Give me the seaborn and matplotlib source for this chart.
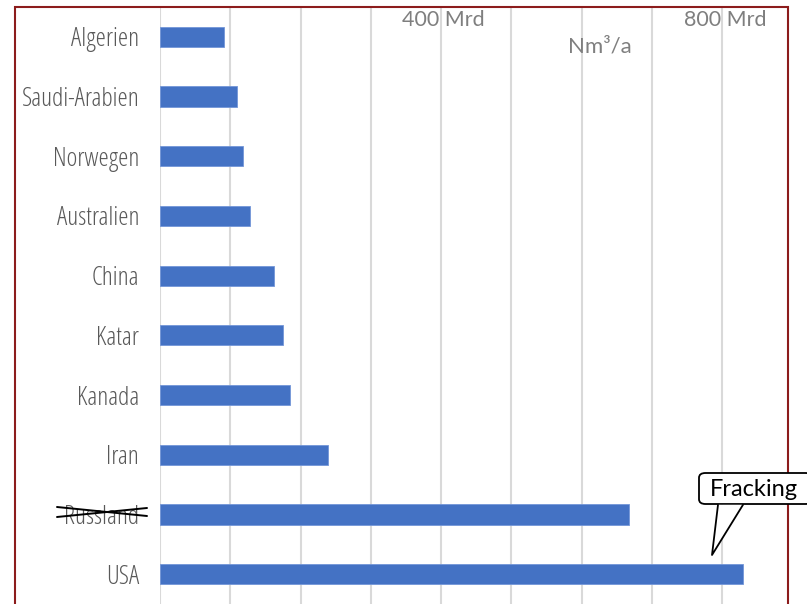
import matplotlib
matplotlib.use("Agg")
import matplotlib.pyplot as plt
import matplotlib.patches as mpatches
import matplotlib.transforms as mtransforms
import numpy as np
import pandas as pd
import seaborn as sns

# Natural gas production by country (billion Nm³ per year)
countries = ["Algerien", "Saudi-Arabien", "Norwegen", "Australien", "China",
             "Katar", "Kanada", "Iran", "Russland", "USA"]
production = [91, 110, 118, 128, 162, 175, 185, 239, 668, 830]
tick_values = [400, 800]
tick_labels = ["400 Mrd", "800 Mrd"]
unit_label = "Nm³/a"
callout_text = "Fracking"

df = pd.DataFrame({"Land": countries, "Förderung": production})

sns.set_theme(style="white")
plt.rcParams["font.family"] = ["Lato", "DejaVu Sans"]

W, H = 807, 604
fig = plt.figure(figsize=(W / 100, H / 100), dpi=100)
ax = fig.add_axes([160 / W, 0.0, (788 - 160) / W, (H - 7) / H])

bar_color = "#4472C4"
sns.barplot(data=df, y="Land", x="Förderung", orient="h", color=bar_color,
            width=0.34, ax=ax, saturation=1, edgecolor="#7396d8", linewidth=0.6)

ax.set_xlim(0, (788 - 160) / 0.7025)
ax.set_ylim(len(countries) - 0.5, -0.5)
ax.set_xticks(np.arange(0, 801, 100))
ax.set_xticklabels([])
ax.tick_params(axis="x", length=0)
ax.tick_params(axis="y", length=0, pad=15)
ax.grid(axis="x", color="#d9d9d9", linewidth=1.5)
ax.set_axisbelow(True)
for s in ax.spines.values():
    s.set_visible(False)
ax.set_xlabel("")
ax.set_ylabel("")

for lbl in ax.get_yticklabels():
    lbl.set_fontfamily(["Open Sans", "DejaVu Sans"])
    lbl.set_fontstretch("condensed")
    lbl.set_fontweight(400)
    lbl.set_fontsize(18.5)
    lbl.set_color("#595959")

# value markers along the top
trans = mtransforms.blended_transform_factory(ax.transData, ax.transAxes)
for v, t in zip(tick_values, tick_labels):
    ax.text(v + 4, 0.978, t, transform=trans, ha="center", va="center",
            fontsize=15.5, color="#7f7f7f")
ax.text(626, 0.933, unit_label, transform=trans, ha="center", va="center",
        fontsize=16, color="#7f7f7f")


def px(x, y):
    return x / W, 1 - y / H


# strike-through over "Russland"
for (x0, y0), (x1, y1) in [((57, 507), (147, 516)), ((57, 517), (147, 508))]:
    fig.add_artist(plt.Line2D([px(x0, y0)[0], px(x1, y1)[0]],
                              [px(x0, y0)[1], px(x1, y1)[1]],
                              transform=fig.transFigure, color="black", lw=1.4))

# outer chart frame
frame = mpatches.Rectangle(px(15, 640), (788 - 15) / W, (640 - 7) / H,
                           transform=fig.transFigure, fill=False,
                           edgecolor="#8c1c1c", linewidth=1.5, clip_on=False)
fig.add_artist(frame)

# speech-bubble callout pointing at the USA bar
bx0, by0, bx1, by1 = 699, 473, 812, 504
bubble = mpatches.FancyBboxPatch(px(bx0, by1), (bx1 - bx0) / W, (by1 - by0) / H,
                                 boxstyle="round,pad=0,rounding_size=0.008",
                                 transform=fig.transFigure, facecolor="white",
                                 edgecolor="black", linewidth=1.3, zorder=10)
fig.add_artist(bubble)
tail = [px(718, 504.8), px(712, 555), px(743, 504.8)]
fig.add_artist(mpatches.Polygon(tail, closed=True, transform=fig.transFigure,
                                facecolor="white", edgecolor="none", zorder=11))
fig.add_artist(plt.Line2D([tail[0][0], tail[1][0], tail[2][0]],
                          [tail[0][1], tail[1][1], tail[2][1]],
                          transform=fig.transFigure, color="black", lw=1.3, zorder=12))
fig.text(*px(754, 490), callout_text, ha="center", va="center", fontsize=17,
         color="black", zorder=13)

fig.savefig("out.png", dpi=100)
